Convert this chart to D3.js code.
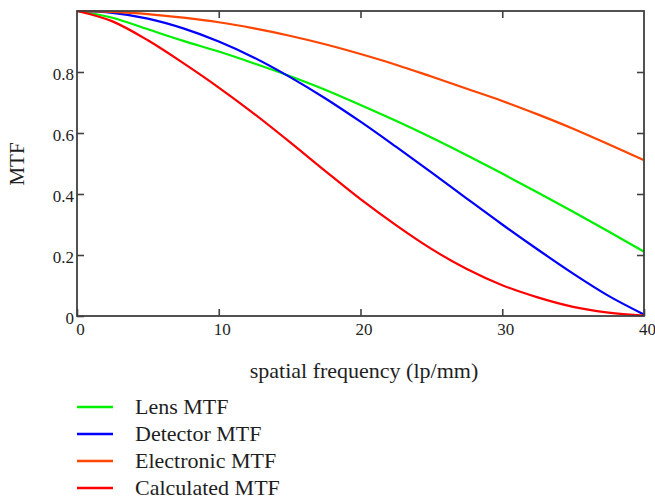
<!DOCTYPE html>
<html>
<head>
<meta charset="utf-8">
<script src="https://cdn.jsdelivr.net/npm/d3@7"></script>
<style>
  body { margin: 0; background: #fff; }
  svg text { font-family: "Liberation Serif", "DejaVu Serif", serif; fill: #1e1e1e; }
  .axis text { font-size: 17px; }
  .axis path { display: none; }
  .axis line { stroke: #404040; stroke-width: 1.6; }
</style>
</head>
<body>
<div id="chart"></div>
<script>
// spatial frequency samples (lp/mm)
var freq = [0, 2.5, 5, 7.5, 10, 12.5, 15, 17.5, 20, 22.5, 25, 27.5, 30, 32.5, 35, 37.5, 40];

// MTF values
var lensMTF =       [1, 0.978, 0.94, 0.902, 0.867, 0.828, 0.787, 0.742, 0.692, 0.64, 0.585, 0.527, 0.467, 0.405, 0.342, 0.277, 0.211];
var detectorMTF =   [1, 0.994, 0.975, 0.943, 0.90, 0.847, 0.784, 0.714, 0.637, 0.555, 0.471, 0.385, 0.30, 0.218, 0.139, 0.066, 0.005];
var electronicMTF = [1, 0.997, 0.99, 0.978, 0.963, 0.943, 0.919, 0.891, 0.859, 0.824, 0.785, 0.745, 0.705, 0.661, 0.614, 0.563, 0.511];
var calculatedMTF = [1, 0.966, 0.904, 0.829, 0.749, 0.663, 0.571, 0.476, 0.383, 0.298, 0.22, 0.154, 0.101, 0.061, 0.03, 0.011, 0.001];

var seriesNames = ["Lens MTF", "Detector MTF", "Electronic MTF", "Calculated MTF"];
var seriesColors = ["#00f000", "#0000ff", "#ff4500", "#ff0000"];

var xTicks = [0, 10, 20, 30, 40];
var yTicks = [0, 0.2, 0.4, 0.6, 0.8];
var yTickLabels = ["0", "0.2", "0.4", "0.6", "0.8"];

var W = 655, H = 499;
var margin = { top: 11, right: 11, bottom: 183, left: 77 };
var width = W - margin.left - margin.right;
var height = H - margin.top - margin.bottom;

var svg = d3.select("#chart").append("svg")
  .attr("width", W)
  .attr("height", H);

var g = svg.append("g")
  .attr("transform", "translate(" + margin.left + "," + margin.top + ")");

var x = d3.scaleLinear().domain([0, 40]).range([0, width]);
var y = d3.scaleLinear().domain([0, 1]).range([height, 0]);

// curves
var line = d3.line()
  .x(function (d) { return x(d[0]); })
  .y(function (d) { return y(d[1]); })
  .curve(d3.curveMonotoneX);

var allSeries = [lensMTF, detectorMTF, electronicMTF, calculatedMTF];
allSeries.forEach(function (vals, i) {
  g.append("path")
    .datum(freq.map(function (f, j) { return [f, vals[j]]; }))
    .attr("fill", "none")
    .attr("stroke", seriesColors[i])
    .attr("stroke-width", 2.2)
    .attr("d", line);
});

// axes with inward ticks
var xAxis = g.append("g")
  .attr("class", "axis")
  .attr("transform", "translate(0," + height + ")")
  .call(d3.axisBottom(x).tickValues(xTicks).tickSize(-7).tickSizeOuter(0).tickPadding(7));
xAxis.selectAll("text").attr("dx", 3);

var yAxis = g.append("g")
  .attr("class", "axis")
  .call(d3.axisLeft(y).tickValues(yTicks).tickSize(-7).tickSizeOuter(0).tickPadding(3)
    .tickFormat(function (d, i) { return yTickLabels[i]; }));
yAxis.selectAll("text").attr("dy", "0.42em");

g.append("g")
  .attr("class", "axis")
  .call(d3.axisTop(x).tickValues([10, 20, 30]).tickSize(-7).tickSizeOuter(0).tickFormat(""));

g.append("g")
  .attr("class", "axis")
  .attr("transform", "translate(" + width + ",0)")
  .call(d3.axisRight(y).tickValues([0.2, 0.4, 0.6, 0.8]).tickSize(-7).tickSizeOuter(0).tickFormat(""));

// remove the font attribute d3 puts on axis groups
svg.selectAll(".axis").attr("font-family", null).attr("font-size", null);

// frame
g.append("rect")
  .attr("x", 0).attr("y", 0)
  .attr("width", width).attr("height", height)
  .attr("fill", "none")
  .attr("stroke", "#404040")
  .attr("stroke-width", 1.8);

// axis titles
svg.append("text")
  .attr("x", 364)
  .attr("y", 378)
  .attr("text-anchor", "middle")
  .attr("font-size", "22px")
  .text("spatial frequency (lp/mm)");

svg.append("text")
  .attr("transform", "translate(24,164) rotate(-90)")
  .attr("text-anchor", "middle")
  .attr("font-size", "21px")
  .text("MTF");

// legend
var legend = svg.append("g").attr("transform", "translate(77,407)");
seriesNames.forEach(function (name, i) {
  var row = legend.append("g").attr("transform", "translate(0," + (i * 27) + ")");
  row.append("line")
    .attr("x1", 0).attr("x2", 36)
    .attr("y1", 0).attr("y2", 0)
    .attr("stroke", seriesColors[i])
    .attr("stroke-width", 2.6);
  row.append("text")
    .attr("x", 58)
    .attr("y", 7)
    .attr("font-size", "22px")
    .text(name);
});
</script>
</body>
</html>
